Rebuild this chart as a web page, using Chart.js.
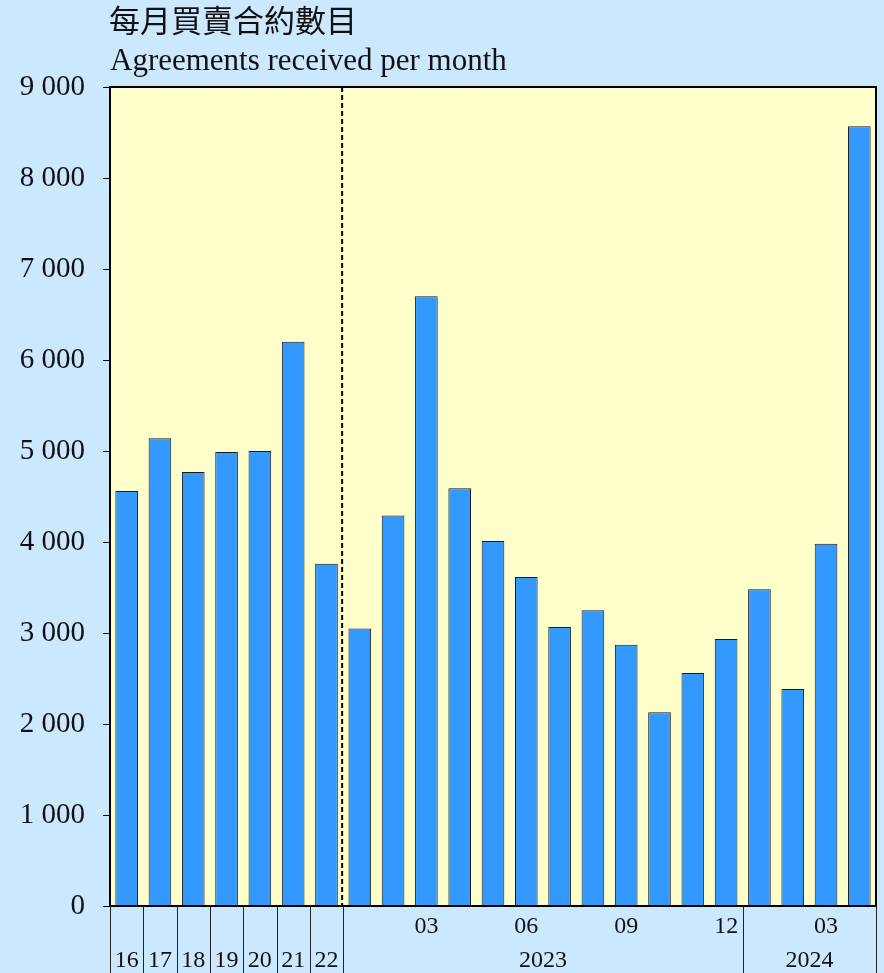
<!DOCTYPE html>
<html>
<head>
<meta charset="utf-8">
<script src="https://cdn.jsdelivr.net/npm/chart.js@4/dist/chart.umd.min.js"></script>
<style>
  html, body { margin: 0; padding: 0; background: #CCE8FF; }
  #wrap { width: 884px; height: 973px; position: relative; }
</style>
</head>
<body>
<div id="wrap"><canvas id="c"></canvas></div>
<script>
// ---- Data ----
const categories = ['2016','2017','2018','2019','2020','2021','2022',
  '2023-01','2023-02','2023-03','2023-04','2023-05','2023-06','2023-07','2023-08','2023-09','2023-10','2023-11','2023-12',
  '2024-01','2024-02','2024-03','2024-04'];
const agreements = [4560, 5140, 4770, 4990, 5000, 6200, 3760,
  3050, 4290, 6700, 4590, 4010, 3615, 3065, 3250, 2870, 2130, 2560, 2935,
  3480, 2385, 3980, 8570];
// first row of x labels (month ticks)
const monthTickLabels = ['', '', '', '', '', '', '',
  '', '', '03', '', '', '06', '', '', '09', '', '', '12',
  '', '', '03', ''];
// second row: groups
const groupNames = ['16','17','18','19','20','21','22','2023','2024'];
const groupStart = [0, 1, 2, 3, 4, 5, 6, 7, 19];
const groupEnd   = [0, 1, 2, 3, 4, 5, 6, 18, 22];
const titleZh = '每月買賣合約數目';
const titleEn = 'Agreements received per month';
const yTicks = { min: 0, max: 9000, step: 1000 };

const SERIF = '"Liberation Serif", "Times New Roman", serif';
const CJK = '"Noto Sans CJK TC", "Noto Sans CJK SC", sans-serif';

function fmt(v) { return String(v).replace(/\B(?=(\d{3})+(?!\d))/g, ' '); }

const decor = {
  id: 'decor',
  beforeDraw(chart) {
    const { ctx, chartArea: a } = chart;
    ctx.save();
    ctx.fillStyle = '#FFFFCC';
    ctx.fillRect(a.left, a.top, a.right - a.left, a.bottom - a.top);
    ctx.restore();
  },
  afterDraw(chart) {
    const { ctx, chartArea: a, scales: { x } } = chart;
    const cw = x.getPixelForValue(1) - x.getPixelForValue(0);
    const H = chart.height;
    ctx.save();
    // plot frame
    ctx.strokeStyle = '#000';
    ctx.lineWidth = 2;
    ctx.strokeRect(a.left, a.top, a.right - a.left, a.bottom - a.top);
    // dashed divider between annual and monthly data
    const dx = x.getPixelForValue(groupStart[7]) - cw / 2;
    ctx.setLineDash([5, 3]);
    ctx.lineWidth = 2;
    ctx.beginPath();
    ctx.moveTo(dx - 1, a.top);
    ctx.lineTo(dx - 1, a.bottom);
    ctx.stroke();
    ctx.setLineDash([]);
    // group separators below axis
    ctx.lineWidth = 1;
    ctx.strokeStyle = '#222';
    const edges = new Set();
    groupStart.forEach(s => edges.add(s));
    edges.add(categories.length);
    edges.forEach(i => {
      const px = Math.round(x.getPixelForValue(0) - cw / 2 + cw * i) + 0.5;
      ctx.beginPath();
      ctx.moveTo(px, a.bottom);
      ctx.lineTo(px, H);
      ctx.stroke();
    });
    // labels
    ctx.fillStyle = '#111';
    ctx.font = '24px ' + SERIF;
    ctx.textAlign = 'center';
    ctx.textBaseline = 'middle';
    monthTickLabels.forEach((t, i) => {
      if (t) ctx.fillText(t, x.getPixelForValue(i), a.bottom + 21);
    });
    groupNames.forEach((g, k) => {
      const cx = (x.getPixelForValue(groupStart[k]) + x.getPixelForValue(groupEnd[k])) / 2;
      ctx.fillText(g, cx, a.bottom + 55);
    });
    // titles
    ctx.textAlign = 'left';
    ctx.textBaseline = 'alphabetic';
    ctx.font = '31px ' + CJK;
    ctx.fillText(titleZh, a.left - 1, 32);
    ctx.font = '31px ' + SERIF;
    ctx.fillText(titleEn, a.left, 70);
    ctx.restore();
  }
};

new Chart(document.getElementById('c'), {
  type: 'bar',
  data: {
    labels: categories,
    datasets: [{
      data: agreements,
      backgroundColor: '#3399FF',
      borderColor: '#1a1a1a',
      borderWidth: 1,
      barPercentage: 0.68,
      categoryPercentage: 1.0
    }]
  },
  options: {
    responsive: true,
    maintainAspectRatio: false,
    animation: false,
    layout: { padding: { top: 87, right: 8, left: 0, bottom: 0 } },
    plugins: { legend: { display: false }, tooltip: { enabled: false }, title: { display: false } },
    scales: {
      x: {
        grid: { display: false },
        border: { display: true, color: '#000', width: 2 },
        ticks: { display: false },
        afterFit(s) { s.height = 67; }
      },
      y: {
        min: yTicks.min, max: yTicks.max,
        ticks: {
          stepSize: yTicks.step,
          color: '#111',
          font: { family: SERIF, size: 29 },
          padding: 18,
          callback: v => fmt(v)
        },
        grid: { drawOnChartArea: false, drawTicks: true, tickLength: 7, tickColor: '#000', tickWidth: 1 },
        border: { display: true, color: '#000', width: 2 },
        afterFit(s) { s.width = 110; }
      }
    }
  },
  plugins: [decor]
});
</script>
</body>
</html>
